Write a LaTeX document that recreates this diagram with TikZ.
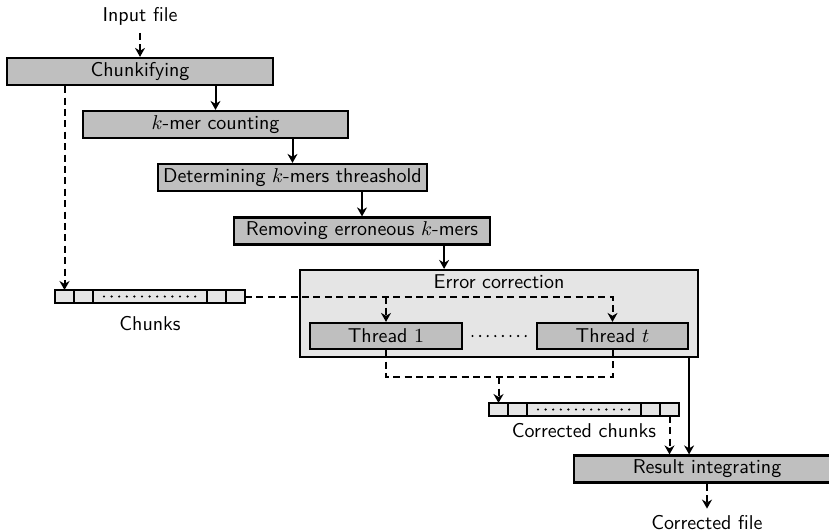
\documentclass[tikz,border=0pt]{standalone}
\usetikzlibrary{
	arrows.meta,
	positioning,
	calc
}
\tikzset{
  % arrow
	cstra/.style      ={-{Stealth[length=4.5pt,width=5pt]}}, % right arrow
	cstline/.style    ={line width=1pt},
	cstdash/.style    ={line width=1pt, dash pattern= on 3.5pt off 2.2pt}, %虚线
	cstdots/.style    ={line width=1.2pt, line cap=round, dash pattern=on 0pt off 3.8pt}, %点线
  % node
	cstbox/.style     ={fill=black!25,draw=black,line width=1.1pt,inner sep=0pt,minimum height=13.5pt},
	cstbigbox/.style  ={fill=black!10,draw=black,line width=1.1pt,inner sep=0pt},
	cstcell/.style    ={fill=black!10,draw=black,line width=1pt,inner sep=0pt,outer sep=0pt,minimum width=9.5pt,minimum height=6.5pt}
}
\begin{document}
\begin{tikzpicture}[x=0.5pt,y=-0.5pt,every node/.style={font=\sffamily}]
	\clip (0,0) rectangle (829,531);
	% steps
	\node[cstbox,minimum width=133pt] (chunk) at (140,71.5) {Chunkifying};
	\node[cstbox,minimum width=132.5pt] (kmer) at (215.5,124.5) {$k$-mer counting};
	\node[cstbox,minimum width=134.5pt] (thresh) at (292.5,177.5) {Determining $k$-mers threashold};
	\node[cstbox,minimum width=128pt] (remove) at (362,231) {Removing erroneous $k$-mers};
	\node[cstbigbox,minimum width=199pt,minimum height=43.5pt] (errcorr) at (499,313.5) {};
	\node[below=0pt of errcorr.north,inner sep=2.5pt] (errlbl) {Error correction};
	\node[cstbox,minimum width=76pt,minimum height=13pt] (thrA) at (386,336) {Thread $1$};
	\node[cstbox,minimum width=75.5pt,minimum height=13pt] (thrT) at (612.5,336) {Thread $t$};
	\node[cstbox,minimum width=133pt] (result) at (707,469) {Result integrating};
	\node[above=12pt of chunk] (input) {Input file};
	\node[below=12.5pt of result] (output) {Corrected file};
	% chunks
	\node[cstcell] (ca1) at (64.5,296.5) {};
	\node[cstcell,right=0pt of ca1] (ca2) {};
	\node[cstcell,minimum width=57pt,right=0pt of ca2] (ca3) {};
	\node[cstcell,right=0pt of ca3] (ca4) {};
	\node[cstcell,right=0pt of ca4] (ca5) {};
	\node[below=3pt of ca3] (calbl) {Chunks};
	\node[cstcell] (cb1) at (498.5,409.5) {};
	\node[cstcell,right=0pt of cb1] (cb2) {};
	\node[cstcell,minimum width=57pt,right=0pt of cb2] (cb3) {};
	\node[cstcell,right=0pt of cb3] (cb4) {};
	\node[cstcell,right=0pt of cb4] (cb5) {};
	\node[below=0pt of cb3] (cblbl) {Corrected chunks};
	% dots
	\draw[cstdots] ($(ca3)+(-46,0)$) -- ($(ca3)+(46,0)$);
	\draw[cstdots] ($(cb3)+(-46,0)$) -- ($(cb3)+(46,0)$);
	\draw[cstdots] ($(thrA.east)!.5!(thrT.west)+(-27,0)$) -- ($(thrA.east)!.5!(thrT.west)+(27,0)$);
	% connectors
	\draw[cstdash,cstra] (input) -- (chunk);
	\draw[cstline,cstra] (chunk.south -| kmer.north) -- (kmer.north);
	\draw[cstline,cstra] (kmer.south -| thresh.north) -- (thresh.north);
	\draw[cstline,cstra] (thresh.south -| remove.north) -- (remove.north);
	\coordinate (remout) at ($(remove.south east)+(-47,0)$);
	\draw[cstline,cstra] (remout) -- (remout |- errcorr.north);
	\draw[cstdash,cstra] (chunk.south -| ca1.north) -- (ca1.north);
	\draw[cstdash,cstra] (ca5.east) -| (thrT.north);
	\draw[cstdash,cstra] (ca5.east -| thrA.north) -- (thrA.north);
	\draw[cstdash] (thrA.south) -- ++(0,27) coordinate (join) -| (thrT.south);
	\draw[cstdash,cstra] (join -| cb1.north) -- (cb1.north);
	\draw[cstline,cstra] (thrT.east |- errcorr.south) -- (thrT.east |- result.north);
	\draw[cstdash,cstra] (cb5.south) -- (cb5.south |- result.north);
	\draw[cstdash,cstra] (result) -- (output);
\end{tikzpicture}
\end{document}
